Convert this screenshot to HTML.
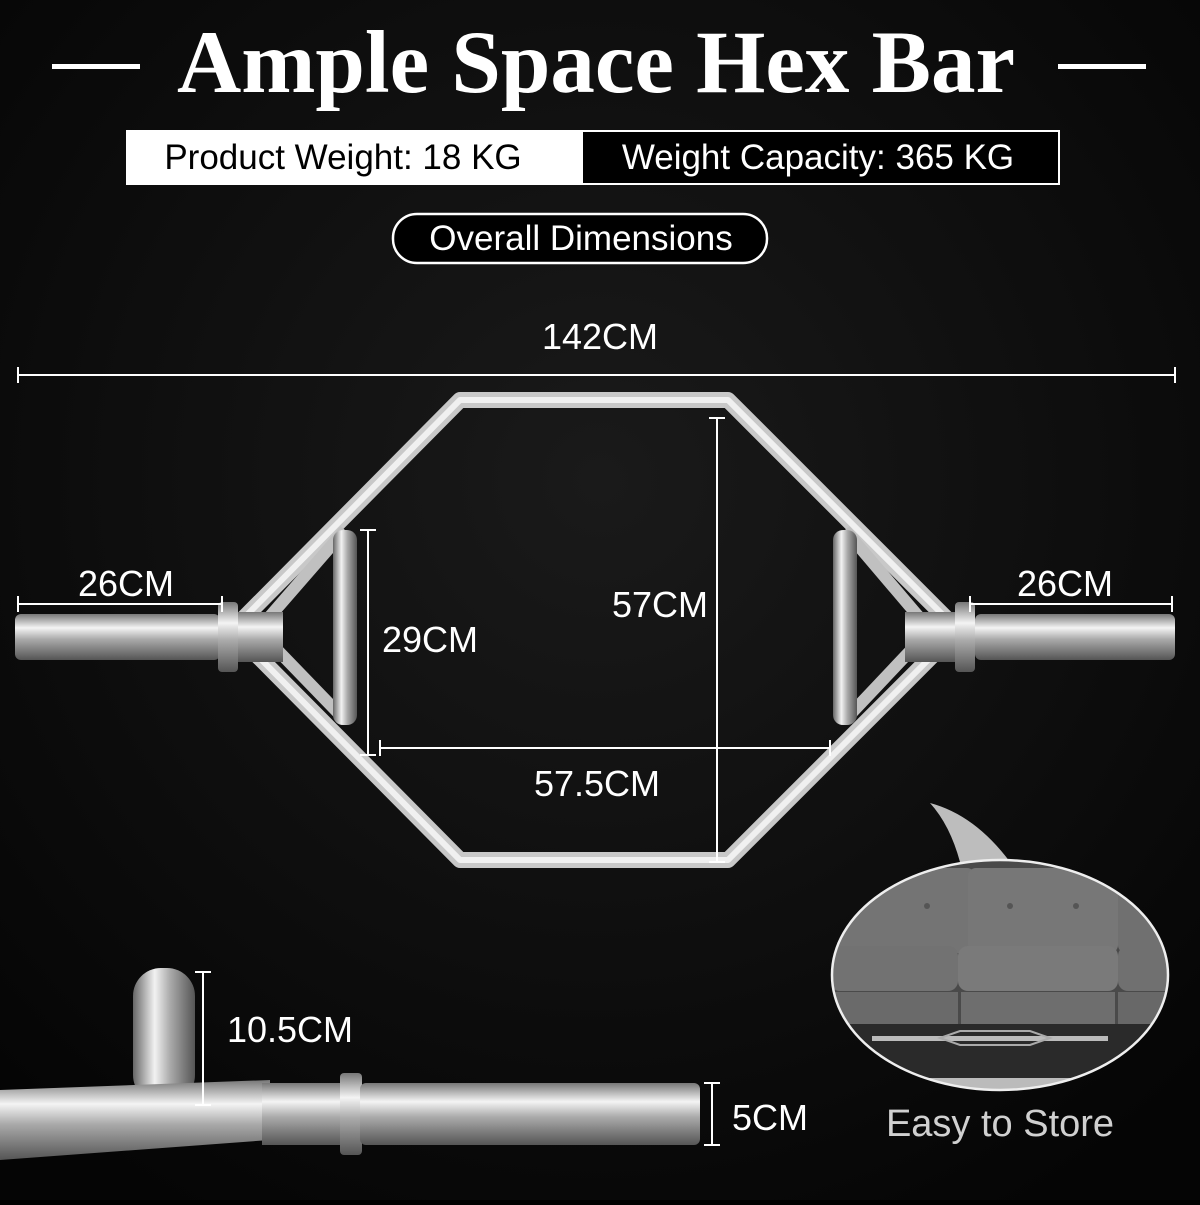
<!DOCTYPE html>
<html><head><meta charset="utf-8"><style>
html,body{margin:0;padding:0;background:#000;}
body{width:1200px;height:1200px;overflow:hidden;position:relative;font-family:"Liberation Sans",sans-serif;}
</style></head><body>
<svg width="1200" height="1200" viewBox="0 0 1200 1200" xmlns="http://www.w3.org/2000/svg">
<defs>
<radialGradient id="bg" cx="50%" cy="40%" r="70%"><stop offset="0" stop-color="#1a1a1a"/><stop offset="1" stop-color="#050505"/></radialGradient>
<linearGradient id="chromeV" x1="0" y1="0" x2="0" y2="1"><stop offset="0" stop-color="#777"/><stop offset="0.3" stop-color="#f4f4f4"/><stop offset="0.55" stop-color="#aaa"/><stop offset="1" stop-color="#555"/></linearGradient>
<linearGradient id="chromeH" x1="0" y1="0" x2="1" y2="0"><stop offset="0" stop-color="#666"/><stop offset="0.35" stop-color="#f2f2f2"/><stop offset="0.6" stop-color="#aaa"/><stop offset="1" stop-color="#555"/></linearGradient>
<clipPath id="circ"><ellipse cx="1000" cy="975" rx="168" ry="115"/></clipPath>
</defs>
<rect width="1200" height="1200" fill="url(#bg)"/>

<!-- Title -->
<text x="596" y="92" text-anchor="middle" font-family="Liberation Serif,serif" font-weight="bold" font-size="89" fill="#fff">Ample Space Hex Bar</text>
<rect x="52" y="64" width="88" height="5" fill="#fff"/>
<rect x="1058" y="64" width="88" height="5" fill="#fff"/>

<!-- info box -->
<rect x="126" y="130" width="456" height="55" fill="#fff"/>
<rect x="582" y="131" width="477" height="53" fill="#000" stroke="#fff" stroke-width="2"/>
<text x="343" y="169" text-anchor="middle" font-size="35" fill="#000">Product Weight: 18 KG</text>
<text x="818" y="169" text-anchor="middle" font-size="35" fill="#fff">Weight Capacity: 365 KG</text>

<rect x="393" y="214" width="374" height="49" rx="24" fill="#000" stroke="#fff" stroke-width="2.5"/>
<text x="581" y="250" text-anchor="middle" font-size="35" fill="#fff">Overall Dimensions</text>

<!-- 142 -->
<text x="600" y="349" text-anchor="middle" font-size="36" fill="#fff">142CM</text>
<g stroke="#fff" stroke-width="2"><line x1="18" y1="375" x2="1175" y2="375"/><line x1="18" y1="367" x2="18" y2="383"/><line x1="1175" y1="367" x2="1175" y2="383"/></g>

<!-- hex bar -->
<g fill="none" stroke-linejoin="round">
<polygon points="460,400 728,400 958,630 728,860 460,860 232,630" stroke="#c8c8c8" stroke-width="16"/>
<polygon points="460,400 728,400 958,630 728,860 460,860 232,630" stroke="#f0f0f0" stroke-width="6"/>
<polyline points="345,530 258,630 345,720" stroke="#c0c0c0" stroke-width="12"/>
<polyline points="845,530 930,630 845,720" stroke="#c0c0c0" stroke-width="12"/>
</g>
<rect x="333" y="530" width="24" height="195" rx="10" fill="url(#chromeH)"/>
<rect x="833" y="530" width="24" height="195" rx="10" fill="url(#chromeH)"/>
<rect x="15" y="614" width="205" height="46" rx="6" fill="url(#chromeV)"/>
<rect x="218" y="602" width="20" height="70" rx="4" fill="url(#chromeV)"/>
<rect x="238" y="612" width="45" height="50" fill="url(#chromeV)"/>
<rect x="905" y="612" width="50" height="50" fill="url(#chromeV)"/>
<rect x="955" y="602" width="20" height="70" rx="4" fill="url(#chromeV)"/>
<rect x="975" y="614" width="200" height="46" rx="6" fill="url(#chromeV)"/>

<!-- dimension lines -->
<g stroke="#fff" stroke-width="2">
<line x1="18" y1="604" x2="222" y2="604"/><line x1="18" y1="596" x2="18" y2="612"/><line x1="222" y1="596" x2="222" y2="612"/>
<line x1="970" y1="604" x2="1172" y2="604"/><line x1="970" y1="596" x2="970" y2="612"/><line x1="1172" y1="596" x2="1172" y2="612"/>
<line x1="368" y1="530" x2="368" y2="755"/><line x1="360" y1="530" x2="376" y2="530"/><line x1="360" y1="755" x2="376" y2="755"/>
<line x1="717" y1="418" x2="717" y2="862"/><line x1="709" y1="418" x2="725" y2="418"/><line x1="709" y1="862" x2="725" y2="862"/>
<line x1="380" y1="748" x2="830" y2="748"/><line x1="380" y1="740" x2="380" y2="756"/><line x1="830" y1="740" x2="830" y2="756"/>
</g>
<g font-size="36" fill="#fff" text-anchor="middle">
<text x="126" y="596">26CM</text>
<text x="1065" y="596">26CM</text>
<text x="430" y="652">29CM</text>
<text x="660" y="617">57CM</text>
<text x="597" y="796">57.5CM</text>
</g>

<!-- bottom left detail -->
<rect x="133" y="968" width="62" height="135" rx="28" fill="url(#chromeH)"/>
<path d="M0,1090 L270,1080 L270,1140 L0,1160 Z" fill="url(#chromeV)"/>
<rect x="262" y="1083" width="85" height="62" fill="url(#chromeV)"/>
<rect x="340" y="1073" width="22" height="82" rx="4" fill="url(#chromeV)"/>
<rect x="360" y="1083" width="340" height="62" rx="6" fill="url(#chromeV)"/>
<g stroke="#fff" stroke-width="2">
<line x1="203" y1="972" x2="203" y2="1105"/><line x1="195" y1="972" x2="211" y2="972"/><line x1="195" y1="1105" x2="211" y2="1105"/>
<line x1="712" y1="1083" x2="712" y2="1145"/><line x1="704" y1="1083" x2="720" y2="1083"/><line x1="704" y1="1145" x2="720" y2="1145"/>
</g>
<text x="290" y="1042" text-anchor="middle" font-size="36" fill="#fff">10.5CM</text>
<text x="770" y="1130" text-anchor="middle" font-size="36" fill="#fff">5CM</text>

<!-- storage bubble -->
<path d="M930,803 Q975,815 1010,862 L960,862 Q950,825 930,803 Z" fill="#bdbdbd"/>
<ellipse cx="1000" cy="975" rx="168" ry="115" fill="#5a5a5a"/>
<g clip-path="url(#circ)">
<rect x="830" y="855" width="340" height="240" fill="#4a4a4a"/>
<rect x="830" y="868" width="145" height="85" rx="8" fill="#747474"/>
<rect x="968" y="868" width="150" height="85" rx="8" fill="#777"/>
<rect x="1118" y="868" width="60" height="85" rx="8" fill="#707070"/>
<circle cx="927" cy="906" r="3" fill="#555"/><circle cx="1010" cy="906" r="3" fill="#555"/><circle cx="1076" cy="906" r="3" fill="#555"/>
<rect x="830" y="946" width="128" height="45" rx="10" fill="#727272"/>
<rect x="958" y="946" width="160" height="45" rx="10" fill="#7a7a7a"/>
<rect x="1118" y="946" width="60" height="45" rx="10" fill="#707070"/>
<rect x="830" y="992" width="128" height="32" fill="#6a6a6a"/>
<rect x="961" y="992" width="154" height="32" fill="#6e6e6e"/>
<rect x="1118" y="992" width="60" height="32" fill="#686868"/>
<rect x="830" y="1024" width="340" height="66" fill="#2a2a2a"/>
<rect x="872" y="1036" width="236" height="5" fill="#bbb"/>
<polygon points="940,1038 960,1031 1030,1031 1050,1038 1030,1045 960,1045" fill="none" stroke="#aaa" stroke-width="2"/>
<rect x="830" y="1078" width="340" height="20" fill="#bbb"/>
</g>
<ellipse cx="1000" cy="975" rx="168" ry="115" fill="none" stroke="#eee" stroke-width="2.5"/>
<text x="1000" y="1136" text-anchor="middle" font-size="38" fill="#d0d0d0">Easy to Store</text>
</svg>
</body></html>
